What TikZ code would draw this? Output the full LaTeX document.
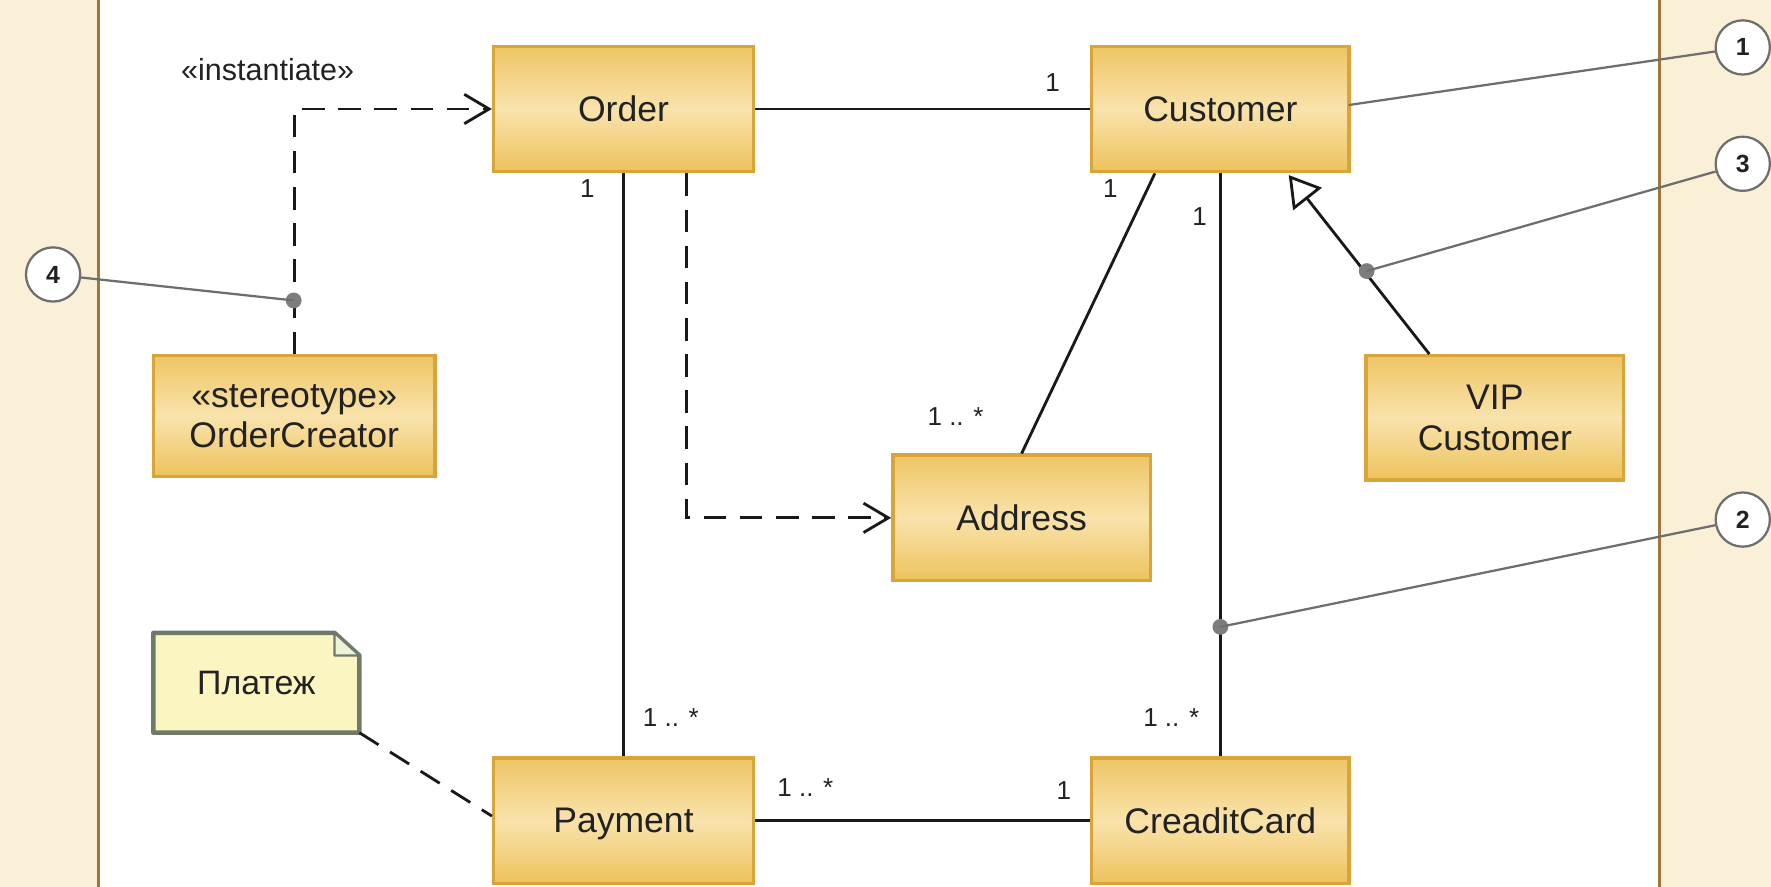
\documentclass[tikz,border=0pt]{standalone}
\usepackage{fontspec}
\setmainfont{Liberation Sans}
\usetikzlibrary{arrows.meta,calc}
\definecolor{panel}{HTML}{FAF0D8}
\definecolor{panelline}{HTML}{A0763C}
\definecolor{boxborder}{HTML}{D9A43A}
\definecolor{boxtop}{HTML}{EEC565}
\definecolor{boxmid}{HTML}{F9E3AC}
\definecolor{boxbot}{HTML}{EDC25C}
\definecolor{notefill}{HTML}{FBF5C2}
\definecolor{noteline}{HTML}{6F7A69}
\definecolor{notefold}{HTML}{EDF3D4}
\definecolor{callout}{HTML}{6E6E6E}
\definecolor{txt}{HTML}{222222}
\tikzset{
  classbox/.style={draw=boxborder, line width=3pt, top color=boxtop, bottom color=boxbot, middle color=boxmid,
    minimum width=228pt, minimum height=111pt, inner sep=0pt, align=center, text=txt,
    font=\fontsize{31.5}{36}\selectfont},
  assoc/.style={line width=2.5pt, draw=black!90},
  depend/.style={line width=2.5pt, draw=black!90, dash pattern=on 20pt off 12pt,
    -{Straight Barb[length=22pt,width=26pt,line width=2.5pt]}},
  gen/.style={line width=2.5pt, draw=black!90,
    -{Triangle[open,length=27pt,width=32pt,line width=2.5pt,fill=white]}},
  mult/.style={font=\fontsize{23}{26}\selectfont, text=txt, inner sep=0pt},
  numcirc/.style={circle, draw=callout, line width=2pt, fill=white, minimum size=48pt, inner sep=0pt,
    font=\fontsize{22}{24}\selectfont\bfseries, text=txt},
  calloutline/.style={draw=callout, line width=2pt},
  dot/.style={circle, fill=callout!90, minimum size=14pt, inner sep=0pt},
}
\begin{document}
\begin{tikzpicture}[x=1pt,y=-1pt]
\useasboundingbox (0,0) rectangle (1568,785);
\fill[white] (0,0) rectangle (1568,785);
% side panels
\fill[panel] (0,0) rectangle (87,785);
\fill[panel] (1469,0) rectangle (1568,785);
\draw[panelline, line width=2.5pt] (87,0) -- (87,785);
\draw[panelline, line width=2.5pt] (1469,0) -- (1469,785);

% classes
\node[classbox, minimum width=230pt] (order) at (552,96.5) {Order};
\node[classbox] (customer) at (1080.5,96.5) {Customer};
\node[classbox, minimum width=249pt, minimum height=107pt] (creator) at (260.5,368.5) {«stereotype»\\OrderCreator};
\node[classbox, minimum height=110pt] (vip) at (1323.5,370) {VIP\\Customer};
\node[classbox] (address) at (904.5,458.5) {Address};
\node[classbox, minimum width=230pt, text depth=0pt] (payment) at (552,726.5) {Payment};
\node[classbox] (card) at (1080.5,726.5) {CreaditCard};

% note
\node[minimum width=182pt, minimum height=88pt, inner sep=0pt] (note) at (227,604.5) {};
\path[fill=notefill, draw=noteline, line width=4pt, line join=round]
  (note.south west) -- (note.north west) -- ($(note.north east)+(-22,0)$) -- ($(note.north east)+(0,20)$) -- (note.south east) -- cycle;
\path[fill=notefold, draw=noteline, line width=2pt, line join=round]
  ($(note.north east)+(-22,0)$) -- ($(note.north east)+(-22,20)$) -- ($(note.north east)+(0,20)$) -- cycle;
\node[font=\fontsize{30}{35}\selectfont, text=txt] (notetext) at (note.center) {Платеж};

% connectors
\draw[assoc] (order.east) -- (customer.west);
\draw[assoc] (order.south) -- (payment.north);
\draw[assoc] (customer.south) -- (card.north);
\draw[assoc] (payment.east) -- (card.west);
\draw[assoc] ([xshift=-58pt]customer.south) -- (address.north);
\draw[depend] (creator.north) |- (order.west);
\draw[depend] ([xshift=56pt]order.south) |- (address.west);
\draw[assoc, dash pattern=on 20pt off 12pt] (note.south east) -- ([yshift=4pt]payment.west);
\coordinate (gtip) at (1141,155);
\draw[gen] ([xshift=-58pt]vip.north) -- (gtip);

% multiplicities
\node[mult] (m1) at (932,73) {1};
\node[mult] (m2) at (520,167) {1};
\node[mult] (m3) at (983,167) {1};
\node[mult] (m4) at (1062,192) {1};
\node[mult] (m5) at (846,369) {1 .. *};
\node[mult] (m6) at (594,635) {1 .. *};
\node[mult] (m7) at (1037,635) {1 .. *};
\node[mult] (m8) at (713,697) {1 .. *};
\node[mult] (m9) at (942,700) {1};
\node[mult, font=\fontsize{27}{30}\selectfont] (inst) at (237,62) {«instantiate»};

% callouts
\node[dot] (d4) at (260,266) {};
\node[dot] (d3) at (1210,240) {};
\node[dot] (d2) at (1080.5,555) {};
\coordinate (c1anchor) at (1194,93);
\node[numcirc] (n4) at (47,243) {4};
\node[numcirc] (n1) at (1543,42) {1};
\node[numcirc] (n3) at (1543,145) {3};
\node[numcirc] (n2) at (1543,460) {2};
\draw[calloutline] (n4) -- (d4.center);
\draw[calloutline] (n3) -- (d3.center);
\draw[calloutline] (n2) -- (d2.center);
\draw[calloutline] (n1) -- (c1anchor);
\end{tikzpicture}
\end{document}
